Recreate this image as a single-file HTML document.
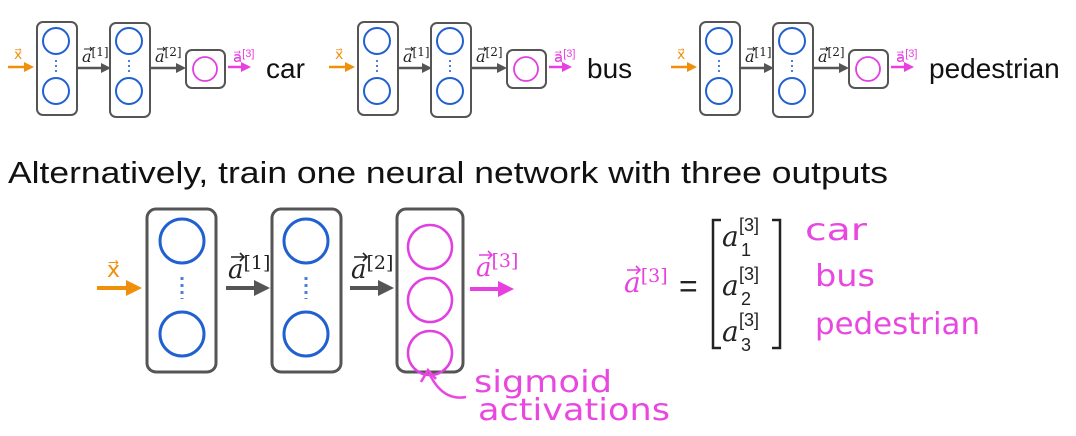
<!DOCTYPE html>
<html><head><meta charset="utf-8"><style>
html,body{margin:0;padding:0;background:#fff;}
svg{display:block;}
text{font-family:"Liberation Sans",sans-serif;}
.m{font-family:"DejaVu Serif","Liberation Serif",serif;font-style:italic;}
.h{font-family:"DejaVu Sans","Liberation Sans",sans-serif;fill:#e848e0;}
</style></head><body>
<svg width="1076" height="436" viewBox="0 0 1076 436" xmlns="http://www.w3.org/2000/svg">
<defs>
<marker id="ao" markerWidth="4" markerHeight="4" refX="2" refY="2" orient="auto"><path d="M0,0L4,2L0,4z" fill="#f0900a"/></marker>
<marker id="ag" markerWidth="4" markerHeight="4" refX="2" refY="2" orient="auto"><path d="M0,0L4,2L0,4z" fill="#555"/></marker>
<marker id="am" markerWidth="4" markerHeight="4" refX="2" refY="2" orient="auto"><path d="M0,0L4,2L0,4z" fill="#e840e0"/></marker>
</defs>
<g id="tops"></g>
<text x="8" y="183" font-size="31" fill="#111" textLength="880" lengthAdjust="spacingAndGlyphs">Alternatively, train one neural network with three outputs</text>
<g>
<line x1="97" y1="288" x2="134" y2="288" stroke="#f0900a" stroke-width="4" marker-end="url(#ao)"/>
<text x="107" y="277" font-size="22" fill="#f0900a" font-family="DejaVu Serif,serif">x⃗</text>
<rect x="147" y="209" width="69" height="163" rx="9" fill="#fff" stroke="#555" stroke-width="3"/>
<circle cx="182" cy="241" r="22" fill="none" stroke="#2060d0" stroke-width="3"/>
<circle cx="182" cy="334" r="22" fill="none" stroke="#2060d0" stroke-width="3"/>
<line x1="182" y1="277" x2="182" y2="299" stroke="#4a80d8" stroke-width="3" stroke-dasharray="3,4"/>
<line x1="226" y1="288" x2="262" y2="288" stroke="#555" stroke-width="4" marker-end="url(#ag)"/>
<text x="228" y="278" font-size="26" class="m" fill="#222">a<tspan font-style="normal" font-size="19" dy="-9">[1]</tspan></text>
<path d="M231,257 L244,257 M240,253 L244,257 L240,261" fill="none" stroke="#222" stroke-width="1.6"/>
<rect x="272" y="209" width="69" height="163" rx="9" fill="#fff" stroke="#555" stroke-width="3"/>
<circle cx="306" cy="241" r="22" fill="none" stroke="#2060d0" stroke-width="3"/>
<circle cx="306" cy="334" r="22" fill="none" stroke="#2060d0" stroke-width="3"/>
<line x1="306" y1="277" x2="306" y2="299" stroke="#4a80d8" stroke-width="3" stroke-dasharray="3,4"/>
<line x1="350" y1="288" x2="386" y2="288" stroke="#555" stroke-width="4" marker-end="url(#ag)"/>
<text x="351" y="278" font-size="26" class="m" fill="#222">a<tspan font-style="normal" font-size="19" dy="-9">[2]</tspan></text>
<path d="M354,257 L367,257 M363,253 L367,257 L363,261" fill="none" stroke="#222" stroke-width="1.6"/>
<rect x="397" y="209" width="66" height="163" rx="9" fill="#fff" stroke="#555" stroke-width="3"/>
<circle cx="430" cy="247" r="22" fill="none" stroke="#e040e0" stroke-width="2.5"/>
<circle cx="430" cy="300" r="22" fill="none" stroke="#e040e0" stroke-width="2.5"/>
<circle cx="430" cy="353" r="22" fill="none" stroke="#e040e0" stroke-width="2.5"/>
<line x1="470" y1="289" x2="506" y2="289" stroke="#e840e0" stroke-width="4" marker-end="url(#am)"/>
<text x="476" y="276" font-size="26" class="m" fill="#e840e0">a<tspan font-style="normal" font-size="19" dy="-9">[3]</tspan></text>
<path d="M479,255 L492,255 M488,251 L492,255 L488,259" fill="none" stroke="#e840e0" stroke-width="1.6"/>
</g>
<g>
<path d="M466,397 C450,400 438,392 429,373" fill="none" stroke="#e848e0" stroke-width="2.5"/>
<path d="M421,382 L428,370 L436,379" fill="none" stroke="#e848e0" stroke-width="2.5"/>
<text x="474" y="392" font-size="30" class="h" textLength="138" lengthAdjust="spacingAndGlyphs">sigmoid</text>
<text x="478" y="420" font-size="30" class="h" textLength="192" lengthAdjust="spacingAndGlyphs">activations</text>
</g>
<g>
<text x="624" y="292" font-size="28" class="m" fill="#e840e0">a<tspan font-style="normal" font-size="19" dy="-10">[3]</tspan></text>
<path d="M627,270 L640,270 M636,266 L640,270 L636,274" fill="none" stroke="#e840e0" stroke-width="1.6"/>
<text x="679" y="297" font-size="32" fill="#222">=</text>
<path d="M721,220 L713,220 L713,348 L721,348" fill="none" stroke="#222" stroke-width="2.5"/>
<path d="M772,220 L780,220 L780,348 L772,348" fill="none" stroke="#222" stroke-width="2.5"/>
<text x="722" y="246" font-size="28" class="m" fill="#222">a</text><text x="739" y="231" font-size="18" fill="#222">[3]</text><text x="741" y="256" font-size="18" fill="#222">1</text>
<text x="722" y="295" font-size="28" class="m" fill="#222">a</text><text x="739" y="280" font-size="18" fill="#222">[3]</text><text x="741" y="305" font-size="18" fill="#222">2</text>
<text x="722" y="341" font-size="28" class="m" fill="#222">a</text><text x="739" y="326" font-size="18" fill="#222">[3]</text><text x="741" y="351" font-size="18" fill="#222">3</text>
<text x="805" y="240" font-size="30" class="h" textLength="62" lengthAdjust="spacingAndGlyphs">car</text>
<text x="815" y="286" font-size="30" class="h" textLength="60" lengthAdjust="spacingAndGlyphs">bus</text>
<text x="815" y="334" font-size="30" class="h" textLength="165" lengthAdjust="spacingAndGlyphs">pedestrian</text>
</g>
</svg>
<script>
var labels=['car','bus','pedestrian'];
var offsets=[0,321,663];
var g=document.getElementById('tops');
var ns='http://www.w3.org/2000/svg';
labels.forEach(function(lab,i){
  var o=offsets[i];
  var grp=document.createElementNS(ns,'g');
  
  
  grp.setAttribute('transform','translate('+o+',0)');
  grp.innerHTML=
  '<line x1="8" y1="67" x2="29" y2="67" stroke="#f0900a" stroke-width="2.5" marker-end="url(#ao)"/>'+
  '<text x="14" y="59" font-size="14" fill="#f0900a" font-family="DejaVu Serif,serif">x⃗</text>'+
  '<rect x="37" y="22" width="40" height="93" rx="6" fill="#fff" stroke="#555" stroke-width="2"/>'+
  '<circle cx="56" cy="41" r="13" fill="none" stroke="#2060d0" stroke-width="2"/>'+
  '<circle cx="56" cy="91" r="13" fill="none" stroke="#2060d0" stroke-width="2"/>'+
  '<line x1="56" y1="60" x2="56" y2="73" stroke="#4a80d8" stroke-width="2" stroke-dasharray="2,3"/>'+
  '<line x1="78" y1="68" x2="106" y2="68" stroke="#555" stroke-width="2.5" marker-end="url(#ag)"/>'+
  '<text x="82" y="62" font-size="16" class="m" fill="#222">a<tspan font-style="normal" font-size="12" dy="-6">[1]</tspan></text>'+
  '<path d="M84,49 L92,49 M90,47 L92,49 L90,51" fill="none" stroke="#222" stroke-width="1"/>'+
  '<rect x="110" y="23" width="40" height="94" rx="6" fill="#fff" stroke="#555" stroke-width="2"/>'+
  '<circle cx="129" cy="41" r="13" fill="none" stroke="#2060d0" stroke-width="2"/>'+
  '<circle cx="129" cy="91" r="13" fill="none" stroke="#2060d0" stroke-width="2"/>'+
  '<line x1="129" y1="60" x2="129" y2="73" stroke="#4a80d8" stroke-width="2" stroke-dasharray="2,3"/>'+
  '<line x1="150" y1="68" x2="181" y2="68" stroke="#555" stroke-width="2.5" marker-end="url(#ag)"/>'+
  '<text x="155" y="62" font-size="16" class="m" fill="#222">a<tspan font-style="normal" font-size="12" dy="-6">[2]</tspan></text>'+
  '<path d="M157,49 L165,49 M163,47 L165,49 L163,51" fill="none" stroke="#222" stroke-width="1"/>'+
  '<rect x="186" y="50" width="39" height="38" rx="6" fill="#fff" stroke="#555" stroke-width="2"/>'+
  '<circle cx="205" cy="69" r="12" fill="none" stroke="#e040e0" stroke-width="1.8"/>'+
  '<line x1="228" y1="67" x2="246" y2="67" stroke="#e840e0" stroke-width="2.5" marker-end="url(#am)"/>'+
  '<text x="233" y="62" font-size="15" fill="#e840e0" font-family="DejaVu Serif,serif">a⃗<tspan font-size="11" dy="-5">[3]</tspan></text>'+
  '<text x="266" y="78" font-size="28" fill="#111">'+lab+'</text>';
  g.appendChild(grp);
});
</script>
</body></html>
